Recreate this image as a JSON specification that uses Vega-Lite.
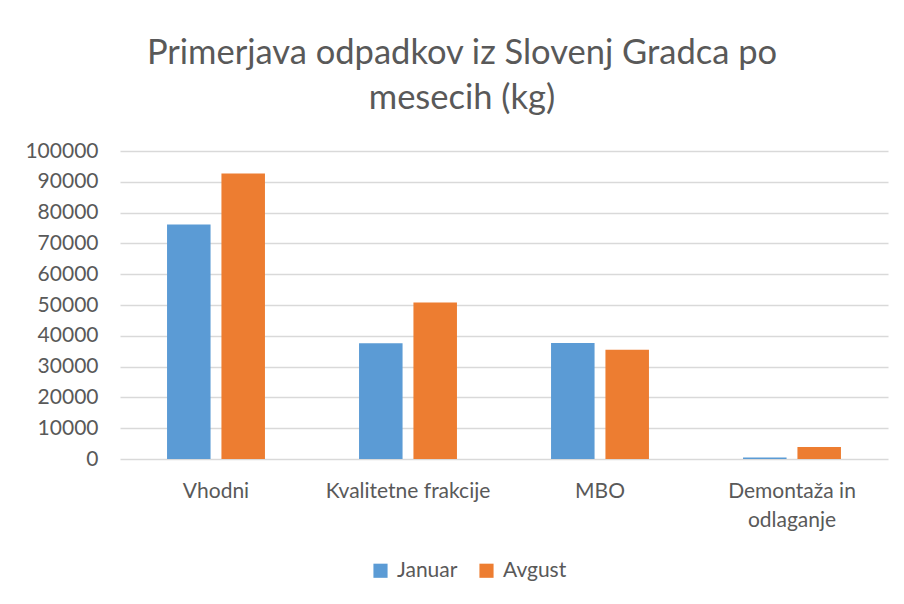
{
  "$schema": "https://vega.github.io/schema/vega-lite/v6.json",
  "autosize": {"type": "none"},
  "width": 768,
  "height": 308,
  "padding": {"left": 120, "top": 151, "right": 16, "bottom": 145},
  "background": "white",
  "config": {
    "font": "Lato",
    "view": {"stroke": null}
  },
  "title": {
    "text": ["Primerjava odpadkov iz Slovenj Gradca po", "mesecih (kg)"],
    "font": "Lato",
    "fontSize": 34.5,
    "fontWeight": "normal",
    "color": "#595959",
    "anchor": "middle",
    "frame": "group",
    "dx": -42,
    "offset": 24,
    "lineHeight": 45
  },
  "data": {
    "values": [
      {"kategorija": "Vhodni", "mesec": "Januar", "kg": 76100},
      {"kategorija": "Vhodni", "mesec": "Avgust", "kg": 92700},
      {"kategorija": "Kvalitetne frakcije", "mesec": "Januar", "kg": 37600},
      {"kategorija": "Kvalitetne frakcije", "mesec": "Avgust", "kg": 50800},
      {"kategorija": "MBO", "mesec": "Januar", "kg": 37700},
      {"kategorija": "MBO", "mesec": "Avgust", "kg": 35500},
      {"kategorija": "Demontaža in odlaganje", "mesec": "Januar", "kg": 450},
      {"kategorija": "Demontaža in odlaganje", "mesec": "Avgust", "kg": 3900}
    ]
  },
  "mark": {"type": "bar"},
  "encoding": {
    "x": {
      "field": "kategorija",
      "type": "nominal",
      "sort": ["Vhodni", "Kvalitetne frakcije", "MBO", "Demontaža in odlaganje"],
      "scale": {"paddingInner": 0.49, "paddingOuter": 0.245},
      "axis": {
        "title": null,
        "labelAngle": 0,
        "domain": false,
        "ticks": false,
        "labelPadding": 21,
        "labelFont": "Lato",
        "labelFontSize": 21,
        "labelColor": "#595959",
        "labelLineHeight": 29,
        "labelExpr": "datum.label == 'Demontaža in odlaganje' ? ['Demontaža in', 'odlaganje'] : datum.label"
      }
    },
    "xOffset": {
      "field": "mesec",
      "type": "nominal",
      "sort": ["Januar", "Avgust"],
      "scale": {"paddingInner": 0.2, "paddingOuter": 0}
    },
    "y": {
      "field": "kg",
      "type": "quantitative",
      "scale": {"domain": [0, 100000], "nice": false},
      "axis": {
        "title": null,
        "values": [0, 10000, 20000, 30000, 40000, 50000, 60000, 70000, 80000, 90000, 100000],
        "format": "d",
        "domain": false,
        "ticks": false,
        "labelPadding": 22,
        "labelFont": "Lato",
        "labelFontSize": 21,
        "labelColor": "#595959",
        "gridColor": "#D9D9D9",
        "gridWidth": 1.5
      }
    },
    "color": {
      "field": "mesec",
      "type": "nominal",
      "sort": ["Januar", "Avgust"],
      "scale": {"domain": ["Januar", "Avgust"], "range": ["#5B9BD5", "#ED7D31"]},
      "legend": {
        "title": null,
        "orient": "none",
        "direction": "horizontal",
        "legendX": 250,
        "legendY": 409,
        "symbolType": "square",
        "symbolSize": 200,
        "symbolOpacity": 1,
        "labelFont": "Lato",
        "labelFontSize": 21,
        "labelColor": "#595959",
        "columnPadding": 18,
        "labelOffset": 6
      }
    }
  }
}
